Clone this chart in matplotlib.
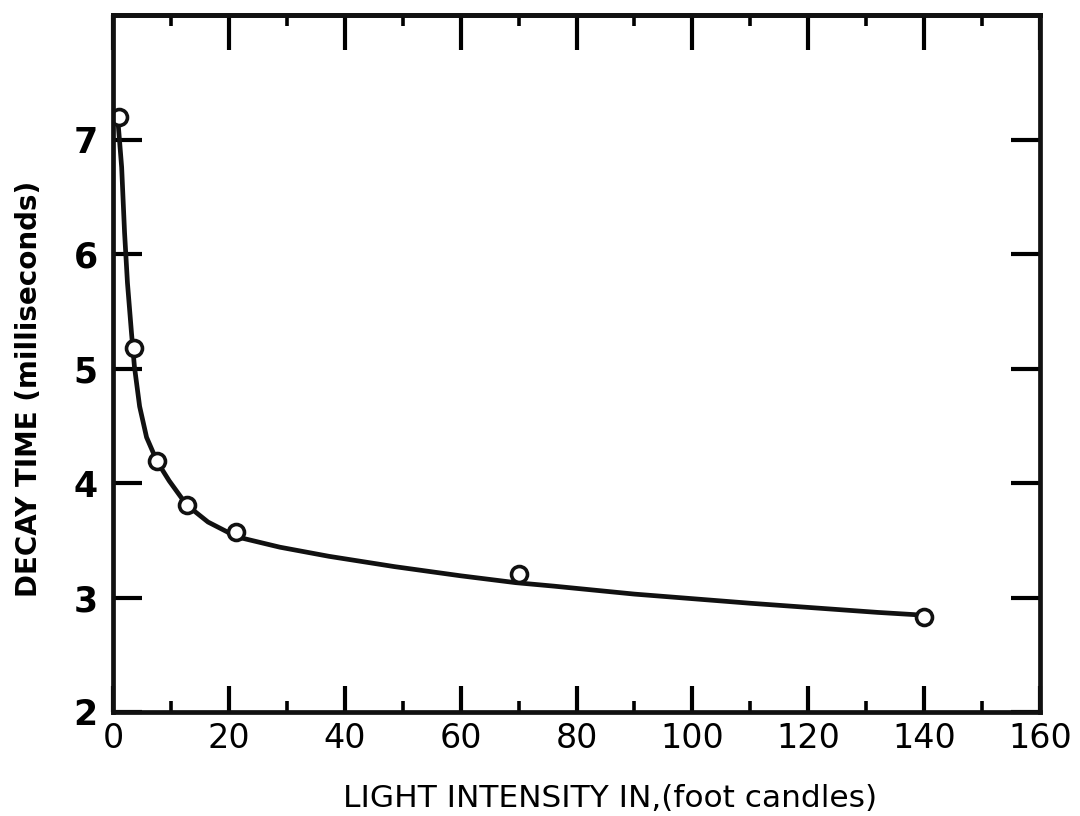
import matplotlib
matplotlib.use("Agg")
import matplotlib.pyplot as plt
from matplotlib.ticker import MultipleLocator

# measured points (foot candles, milliseconds)
light_fc = [1, 3.7, 7.6, 12.7, 21.3, 70, 140]
decay_ms = [7.2, 5.18, 4.19, 3.81, 3.57, 3.21, 2.83]

# hand-drawn fitted curve
curve_fc = [0.85, 1.5, 2.0, 2.5, 3.2, 3.7, 4.6, 5.8, 7.6, 9.7, 12.7, 16.4,
            21.4, 28.8, 37.3, 48.6, 60, 69.5, 76, 90, 110, 132, 138.5]
curve_ms = [7.17, 6.76, 6.19, 5.75, 5.31, 5.02, 4.67, 4.4, 4.19, 4.02, 3.81,
            3.66, 3.53, 3.44, 3.36, 3.27, 3.19, 3.13, 3.1, 3.03, 2.95, 2.87,
            2.85]

x_ticks = [0, 20, 40, 60, 80, 100, 120, 140, 160]
y_ticks = [2, 3, 4, 5, 6, 7]


def main():
    fig = plt.figure(figsize=(10.8, 8.16), dpi=100)
    ax = fig.add_axes([0.1046, 0.1275, 0.8584, 0.854])

    ax.plot(curve_fc, curve_ms, color="#111111", linewidth=3.4,
            solid_capstyle="round", solid_joinstyle="round")
    ax.plot(light_fc, decay_ms, linestyle="none", marker="o", markersize=11.5,
            markerfacecolor="white", markeredgecolor="#111111",
            markeredgewidth=2.6)

    ax.set_xlim(0, 160)
    ax.set_ylim(2, 8.09)
    ax.set_xticks(x_ticks)
    ax.set_yticks(y_ticks)
    ax.xaxis.set_minor_locator(MultipleLocator(10))

    for sp in ax.spines.values():
        sp.set_linewidth(3.4)
        sp.set_color("#111111")

    ax.tick_params(axis="x", which="major", direction="in", length=19,
                   width=3, labelsize=24, pad=7, top=False)
    ax.tick_params(axis="x", which="minor", direction="in", length=8,
                   width=2.6, top=False)
    ax.tick_params(axis="y", which="major", direction="in", length=21,
                   width=3, labelsize=25, pad=11, right=True)
    for lab in ax.get_yticklabels():
        lab.set_fontweight("bold")

    # top edge has longer ticks than the bottom one
    top = ax.secondary_xaxis("top")
    top.set_xticks(x_ticks)
    top.xaxis.set_minor_locator(MultipleLocator(10))
    top.tick_params(which="major", direction="in", length=25, width=3,
                    labeltop=False)
    top.tick_params(which="minor", direction="in", length=8, width=2.6)
    top.spines["top"].set_linewidth(3.4)

    ax.set_xlabel("LIGHT INTENSITY IN,(foot candles)", fontsize=22.5)
    ax.xaxis.set_label_coords(0.536, -0.103)
    ax.set_ylabel("DECAY TIME (milliseconds)", fontsize=20, fontweight="bold")
    ax.yaxis.set_label_coords(-0.0755, 0.463)

    fig.savefig("out.png", dpi=100, facecolor="white")
    plt.close(fig)


if __name__ == "__main__":
    main()
